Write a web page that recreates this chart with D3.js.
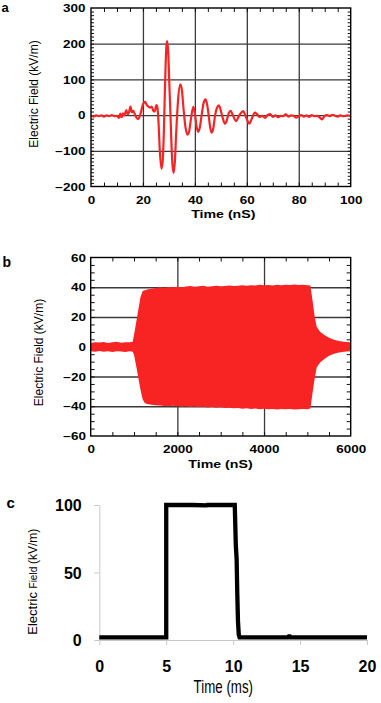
<!DOCTYPE html>
<html><head><meta charset="utf-8">
<script src="https://cdn.jsdelivr.net/npm/d3@7"></script>
<style>body{margin:0;background:#fff}svg{display:block}</style>
</head><body>
<svg id="fig" width="381" height="703"></svg>
<script>
// ---------- Panel a : pulse waveform ----------
const aTime  = [0,1,2,3,4,5,6,7,8,9,10,10.8,11.3,11.8,12.3,12.8,13.6,14.1,14.6,15.2,15.7,16.3,17,17.6,18.2,18.8,19.3,20,20.8,21.5,22.1,22.8,23.4,24,24.5,25.2,25.6,26,26.5,27.1,27.6,28,28.5,29,29.3,29.7,30.2,30.7,31.2,31.8,32.3,32.8,33.5,34.4,35,35.6,36.3,37.1,37.8,38.5,39.4,40,40.6,41.3,41.9,42.6,43.4,44.1,44.7,45.3,45.9,46.4,47,47.8,48.5,49.2,49.9,50.6,51.6,52.3,53,53.8,54.6,55.9,56.8,57.6,58.6,59.4,60.2,61,61.8,63.1,64,65,66,67,68,69,70,71,72,73,74,75,76,77,78,79,80,81,82,83,84,85,86,87,88,89,90,91,92,93,94,95,96,97,98,99,100];
const aField = [-2,-4,-1,-3,-1,-4,-1,-3,0,-3,-2,-8,4,-6,5,-1,14,2,7,24,8,12,0,-8,-11,-3,10,30,37,28,24,21,24,12,10,28,20,-20,-100,-150,-130,-60,80,190,207,180,80,-20,-120,-162,-130,-50,40,86,70,20,-30,-55,-45,-10,23,5,-30,-47,-35,0,35,44,30,0,-35,-49,-40,0,20,27,15,-5,-24,-15,5,12,0,-17,-5,5,11,0,-15,-24,-12,7,2,-5,-2,-8,0,3,-5,-1,-6,-2,-3,2,-4,-1,-2,-7,-3,0,-4,-1,-5,0,-3,-2,-6,-12,-2,0,-3,1,-2,-4,-1,-3,-2,-1,-3];
const aXGrid = [20,40,60,80];
const aYGrid = [-100,0,100,200];
const aXLabels = [0,20,40,60,80,100];
const aYLabels = [-200,-100,0,100,200,300];

// ---------- Panel b : burst envelope ----------
const bTime  = [0,100,200,300,400,500,600,700,800,900,970,1000,1050,1100,1150,1200,1250,1300,1400,1500,1600,1700,1800,1900,2000,2100,2200,2300,2400,2500,2600,2700,2800,2900,3000,3100,3200,3300,3400,3500,3600,3700,3800,3900,4000,4100,4200,4300,4400,4500,4600,4700,4800,4900,5000,5070,5120,5170,5215,5260,5300,5400,5500,5600,5700,5800,5900,6000];
const bUpper = [2.5,3,2.8,3.2,2.6,3,3.3,2.7,3,3.1,3.3,8,16.5,25,33.5,37.5,38,38.5,39,39.5,40,39.7,40.2,40,40.3,40,40.5,40.8,40.3,40.6,41,40.4,40.7,41,40.6,40.9,41.2,40.8,41,41.3,41,41.4,41.2,41.6,41.3,41.5,41.2,41.6,41.4,41.7,41.5,41.8,41.5,41.6,41.4,41.2,31,20,13.5,11.5,10,7.8,6,4.8,4,3.5,3.2,3];
const bLower = [-3,-3.3,-2.8,-3.4,-3,-3.6,-3,-3.2,-3.5,-3,-3.3,-5.5,-13,-21,-29,-35.5,-37.8,-38.5,-39,-39.3,-39.5,-39.8,-40,-39.7,-40,-40.3,-40,-40.5,-40.2,-40.6,-40.3,-40.8,-40.5,-41,-40.7,-41.2,-41,-41.3,-41.1,-41.6,-41.3,-41.8,-41.5,-42,-41.6,-42,-41.8,-42.2,-41.9,-42.1,-41.8,-42.2,-42,-41.8,-42,-41.5,-31,-21,-14,-12,-10.5,-8,-6,-4.8,-4,-3.5,-3.2,-3];
const bXGrid = [2000,4000];
const bYGrid = [-40,-20,0,20,40];
const bXLabels = [0,2000,4000,6000];
const bYLabels = [-60,-40,-20,0,20,40,60];

// ---------- Panel c : square pulse ----------
const cTime  = [0,5,5,5.5,5.85,5.9,5.95,6.35,6.4,6.45,7,8,8.05,8.1,8.98,9.03,9.08,10.12,10.2,10.26,10.31,10.36,10.42,10.48,14.1,14.2,14.3,20];
const cField = [2,2,100,100,100,99,100,100,99,100,100,99.7,99,100,100,99,100,100,70,60,34,14,4,2,2,3.2,2,2];
const cXLabels = [0,5,10,15,20];
const cYLabels = [0,50,100];

// ---------- drawing ----------
const svg = d3.select("#fig");
const RED = "#f82424", GRID = "#3a3a3a", SX = 1.35;
const FONT = "'Liberation Sans', Arial, sans-serif";

function framed(o) {
  const x = d3.scaleLinear().domain(o.xDomain).range([o.left, o.right]);
  const y = d3.scaleLinear().domain(o.yDomain).range([o.bottom, o.top]);
  const W = o.right - o.left, H = o.bottom - o.top;
  const g = svg.append("g");
  const style = (s, col, w) => { s.select(".domain").remove(); s.selectAll("line").attr("stroke", col).attr("stroke-width", w); };
  // grid
  g.append("g").attr("transform", `translate(0,${o.bottom})`)
    .call(d3.axisBottom(x).tickValues(o.xGrid).tickSize(-H).tickFormat(""))
    .call(s => style(s, GRID, 1.3));
  g.append("g").attr("transform", `translate(${o.left},0)`)
    .call(d3.axisLeft(y).tickValues(o.yGrid).tickSize(-W).tickFormat(""))
    .call(s => style(s, GRID, 1.3));
  // minor ticks, inward on all four sides
  g.append("g").attr("transform", `translate(0,${o.bottom})`)
    .call(d3.axisTop(x).tickValues(o.xMinor).tickSize(4).tickFormat("")).call(s => style(s, "#111", 1));
  g.append("g").attr("transform", `translate(0,${o.top})`)
    .call(d3.axisBottom(x).tickValues(o.xMinor).tickSize(4).tickFormat("")).call(s => style(s, "#111", 1));
  g.append("g").attr("transform", `translate(${o.left},0)`)
    .call(d3.axisRight(y).tickValues(o.yMinor).tickSize(o.ytick).tickFormat("")).call(s => style(s, "#111", 1));
  g.append("g").attr("transform", `translate(${o.right},0)`)
    .call(d3.axisLeft(y).tickValues(o.yMinor).tickSize(o.ytick).tickFormat("")).call(s => style(s, "#111", 1));
  // data
  o.draw(g, x, y);
  // frame
  g.append("rect").attr("x", o.left).attr("y", o.top).attr("width", W).attr("height", H)
    .attr("fill", "none").attr("stroke", "#000").attr("stroke-width", 1.4);
  // tick labels
  g.append("g").attr("transform", `translate(0,${o.bottom})`)
    .call(d3.axisBottom(x).tickValues(o.xLabels).tickSize(0).tickFormat(d3.format("d")))
    .call(s => {
      s.select(".domain").remove();
      s.attr("font-family", FONT).attr("font-size", 10).attr("font-weight", "bold");
      s.selectAll("text").attr("y", o.xLabelBase - o.bottom).attr("dy", null)
        .attr("fill", "#000").attr("transform", `scale(${SX},1)`);
    });
  g.append("g").attr("transform", `translate(${o.left},0)`)
    .call(d3.axisLeft(y).tickValues(o.yLabels).tickSize(0).tickFormat(d3.format("d")))
    .call(s => {
      s.select(".domain").remove();
      s.attr("font-family", FONT).attr("font-size", 10).attr("font-weight", "bold");
      s.selectAll("text").attr("x", -(o.left - o.yLabelRight) / SX).attr("dy", "0.36em")
        .attr("fill", "#000").attr("transform", `scale(${SX},1)`);
    });
  // axis titles
  g.append("text").attr("transform", `translate(${o.xTitleX},${o.xTitleBase}) scale(${SX},1)`)
    .attr("text-anchor", "middle").attr("font-family", FONT).attr("font-size", 10.5)
    .attr("font-weight", "bold").text("Time (nS)");
  g.append("text").attr("transform", `translate(${o.yTitleBase},${o.yTitleY}) rotate(-90)`)
    .attr("text-anchor", "middle").attr("font-family", FONT).attr("font-size", 12)
    .text("Electric Field (kV/m)");
  g.append("text").attr("x", o.tagX).attr("y", o.tagBase).attr("font-family", FONT)
    .attr("font-size", o.tagSize).attr("font-weight", "bold").text(o.tag);
}

// Panel a
framed({
  xDomain: [0, 100], yDomain: [-200, 300],
  left: 91, right: 350.7, top: 8, bottom: 186.5,
  xGrid: aXGrid, yGrid: aYGrid,
  xMinor: d3.range(5, 100, 5), yMinor: d3.range(-190, 300, 10), ytick: 3,
  xLabels: aXLabels, yLabels: aYLabels,
  xLabelBase: 204, yLabelRight: 85.5,
  xTitleX: 223.3, xTitleBase: 217.5, yTitleBase: 38, yTitleY: 94,
  tag: "a", tagX: 1.5, tagBase: 11.5, tagSize: 13,
  draw: (g, x, y) => {
    const pts = aTime.map((t, i) => [t, aField[i]]);
    g.append("path").datum(pts)
      .attr("d", d3.line().x(d => x(d[0])).y(d => y(d[1])).curve(d3.curveMonotoneX))
      .attr("fill", "none").attr("stroke", RED).attr("stroke-width", 2.2).attr("stroke-linejoin", "round");
  }
});

// Panel b
framed({
  xDomain: [0, 6000], yDomain: [-60, 60],
  left: 90.7, right: 350.7, top: 257.5, bottom: 436,
  xGrid: bXGrid, yGrid: bYGrid,
  xMinor: d3.range(500, 6000, 500), yMinor: d3.range(-55, 60, 5), ytick: 4,
  xLabels: bXLabels, yLabels: bYLabels,
  xLabelBase: 453.5, yLabelRight: 86,
  xTitleX: 220.5, xTitleBase: 467.5, yTitleBase: 42.5, yTitleY: 352.5,
  tag: "b", tagX: 2.5, tagBase: 266.7, tagSize: 14,
  draw: (g, x, y) => {
    const pts = bTime.map((t, i) => ({t, hi: bUpper[i], lo: bLower[i]}));
    g.append("path").datum(pts)
      .attr("d", d3.area().x(d => x(d.t)).y0(d => y(d.lo)).y1(d => y(d.hi)))
      .attr("fill", RED);
  }
});

// Panel c
(function () {
  const x = d3.scaleLinear().domain([0, 20]).range([99.3, 367]);
  const y = d3.scaleLinear().domain([0, 100]).range([640, 505]);
  const g = svg.append("g");
  const AX = "#c6c9cc";
  g.append("g").attr("transform", "translate(0,640)")
    .call(d3.axisBottom(x).tickValues(cXLabels).tickSize(5).tickSizeOuter(0).tickFormat(""))
    .call(s => { s.select(".domain").attr("stroke", AX); s.selectAll("line").attr("stroke", AX); });
  g.append("g").attr("transform", "translate(99.3,0)")
    .call(d3.axisLeft(y).tickValues(cYLabels).tickSize(5).tickSizeOuter(0).tickFormat(""))
    .call(s => { s.select(".domain").attr("stroke", AX); s.selectAll("line").attr("stroke", AX); });
  const pts = cTime.map((t, i) => [t, cField[i]]);
  g.append("path").datum(pts)
    .attr("d", d3.line().x(d => x(d[0])).y(d => y(d[1])))
    .attr("fill", "none").attr("stroke", "#000").attr("stroke-width", 4.3)
    .attr("stroke-linejoin", "miter").attr("stroke-miterlimit", 1.5);
  // labels
  g.append("g").attr("transform", "translate(0,640)")
    .call(d3.axisBottom(x).tickValues(cXLabels).tickSize(0).tickFormat(d3.format("d")))
    .call(s => {
      s.select(".domain").remove();
      s.attr("font-family", FONT).attr("font-size", 16).attr("font-weight", "bold");
      s.selectAll("text").attr("y", 31.5).attr("dy", null).attr("fill", "#000");
    });
  g.append("g").attr("transform", "translate(99.3,0)")
    .call(d3.axisLeft(y).tickValues(cYLabels).tickSize(0).tickFormat(d3.format("d")))
    .call(s => {
      s.select(".domain").remove();
      s.attr("font-family", FONT).attr("font-size", 16).attr("font-weight", "bold");
      s.selectAll("text").attr("x", -17.6).attr("dy", "0.36em").attr("fill", "#000");
    });
  g.append("text").attr("transform", "translate(223.3,692.5) scale(0.74,1)")
    .attr("text-anchor", "middle").attr("font-family", FONT).attr("font-size", 18)
    .text("Time (ms)");
  const yt = g.append("text").attr("transform", "translate(37,581.7) rotate(-90)")
    .attr("text-anchor", "middle").attr("font-family", FONT);
  yt.append("tspan").attr("font-size", 13).text("Electric ");
  yt.append("tspan").attr("font-size", 10).text("Field ");
  yt.append("tspan").attr("font-size", 12).text("(kV/m)");
  g.append("text").attr("x", 6.5).attr("y", 507.7).attr("font-family", FONT)
    .attr("font-size", 15).attr("font-weight", "bold").text("c");
})();
</script>
</body></html>
